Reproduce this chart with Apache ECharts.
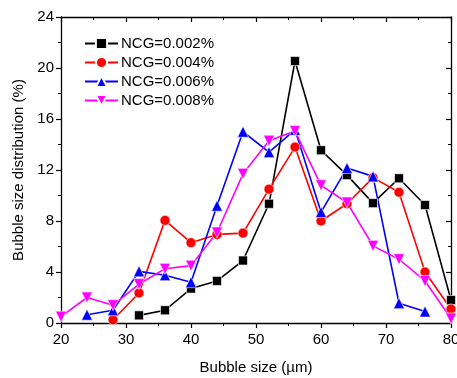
<!DOCTYPE html>
<html>
<head>
<meta charset="utf-8">
<script src="https://cdn.jsdelivr.net/npm/echarts@6/dist/echarts.min.js"></script>
<style>
  html, body { margin: 0; padding: 0; background: #fff; }
  #chart { width: 457px; height: 378px; }
</style>
</head>
<body>
<div id="chart"></div>
<script>
// Bubble size (µm) and distribution (%) for each NCG concentration
const sizes002 = [32, 36, 40, 44, 48, 52, 56, 60, 64, 68, 72, 76, 80];
const dist002  = [0.6, 1.0, 2.7, 3.3, 4.9, 9.35, 20.55, 13.55, 11.6, 9.4, 11.35, 9.25, 1.8];

const sizes004 = [28, 32, 36, 40, 44, 48, 52, 56, 60, 64, 68, 72, 76, 80];
const dist004  = [0.25, 2.35, 8.05, 6.3, 6.95, 7.05, 10.5, 13.8, 8.0, 9.35, 11.4, 10.25, 4.0, 1.1];

const sizes006 = [24, 28, 32, 36, 40, 44, 48, 52, 56, 60, 64, 68, 72, 76];
const dist006  = [0.65, 1.0, 4.05, 3.75, 3.2, 9.2, 15.0, 13.4, 15.15, 8.7, 12.15, 11.5, 1.55, 0.9];

const sizes008 = [20, 24, 28, 32, 36, 40, 44, 48, 52, 56, 60, 64, 68, 72, 76, 80];
const dist008  = [0.5, 2.0, 1.4, 3.05, 4.25, 4.5, 7.1, 11.7, 14.3, 15.05, 10.8, 9.45, 6.05, 5.0, 3.3, 0.35];

const seriesNames = ['NCG=0.002%', 'NCG=0.004%', 'NCG=0.006%', 'NCG=0.008%'];
const xTicks = [20, 30, 40, 50, 60, 70, 80];
const yTicks = [0, 4, 8, 12, 16, 20, 24];

const pairs = (xs, ys) => xs.map((x, i) => [x, ys[i]]);

const FONT = 'Liberation Sans, Arial, sans-serif';
const chart = echarts.init(document.getElementById('chart'), null, { renderer: 'canvas' });

const mkSeries = (name, data, color, symbol, size, rotate) => ({
  name, type: 'line', data,
  xAxisIndex: 0, yAxisIndex: 0,
  symbol, symbolSize: size, symbolRotate: rotate || 0,
  showAllSymbol: true,
  lineStyle: { color, width: 1.6 },
  itemStyle: { color, borderColor: '#fff', borderWidth: 0.6 },
  emphasis: { disabled: true },
  animation: false
});

const axisCommon = {
  type: 'value',
  axisLine: { show: true, onZero: false, lineStyle: { color: '#000', width: 1.3 } },
  splitLine: { show: false },
  minorSplitLine: { show: false }
};

chart.setOption({
  backgroundColor: '#fff',
  animation: false,
  grid: { left: 61, right: 6, top: 17, bottom: 55, containLabel: false, outerBoundsMode: 'none' },
  legend: {
    show: true,
    orient: 'vertical',
    left: 79, top: 31,
    itemWidth: 33, itemHeight: 14, itemGap: 4,
    textStyle: { fontFamily: FONT, fontSize: 15, color: '#000', padding: [0, 0, 0, -2] },
    data: seriesNames
  },
  xAxis: [
    Object.assign({}, axisCommon, {
      position: 'bottom', min: 20, max: 80, interval: 10,
      name: 'Bubble size (\u00b5m)', nameLocation: 'middle', nameGap: 37,
      nameTextStyle: { fontFamily: FONT, fontSize: 15, color: '#000' },
      axisTick: { show: true, inside: false, length: 5, lineStyle: { color: '#000', width: 1.2 } },
      minorTick: { show: true, splitNumber: 2, length: 3, lineStyle: { color: '#000', width: 1 } },
      axisLabel: { fontFamily: FONT, fontSize: 15, color: '#000', margin: 9,
        customValues: xTicks, showMaxLabel: true }
    }),
    Object.assign({}, axisCommon, {
      position: 'top', min: 20, max: 80, interval: 10,
      axisTick: { show: true, inside: true, length: 5, lineStyle: { color: '#000', width: 1.2 } },
      minorTick: { show: true, splitNumber: 2, length: 3, lineStyle: { color: '#000', width: 1 } },
      axisLabel: { show: false }
    })
  ],
  yAxis: [
    Object.assign({}, axisCommon, {
      position: 'left', min: 0, max: 24, interval: 4,
      name: 'Bubble size distribution (%)', nameLocation: 'middle', nameGap: 35,
      nameTextStyle: { fontFamily: FONT, fontSize: 15, color: '#000' },
      axisTick: { show: true, inside: false, length: 5, lineStyle: { color: '#000', width: 1.2 } },
      minorTick: { show: true, splitNumber: 2, length: 3, lineStyle: { color: '#000', width: 1 } },
      axisLabel: { fontFamily: FONT, fontSize: 15, color: '#000', margin: 7, customValues: yTicks }
    }),
    Object.assign({}, axisCommon, {
      position: 'right', min: 0, max: 24, interval: 4,
      axisTick: { show: true, inside: true, length: 5, lineStyle: { color: '#000', width: 1.2 } },
      minorTick: { show: true, splitNumber: 2, length: 3, lineStyle: { color: '#000', width: 1 } },
      axisLabel: { show: false }
    })
  ],
  series: [
    mkSeries(seriesNames[0], pairs(sizes002, dist002), '#000000', 'rect', 9),
    mkSeries(seriesNames[1], pairs(sizes004, dist004), '#ff0000', 'circle', 10),
    mkSeries(seriesNames[2], pairs(sizes006, dist006), '#0000ff', 'triangle', 11),
    mkSeries(seriesNames[3], pairs(sizes008, dist008), '#ff00ff', 'triangle', 11, 180)
  ]
});
</script>
</body>
</html>
